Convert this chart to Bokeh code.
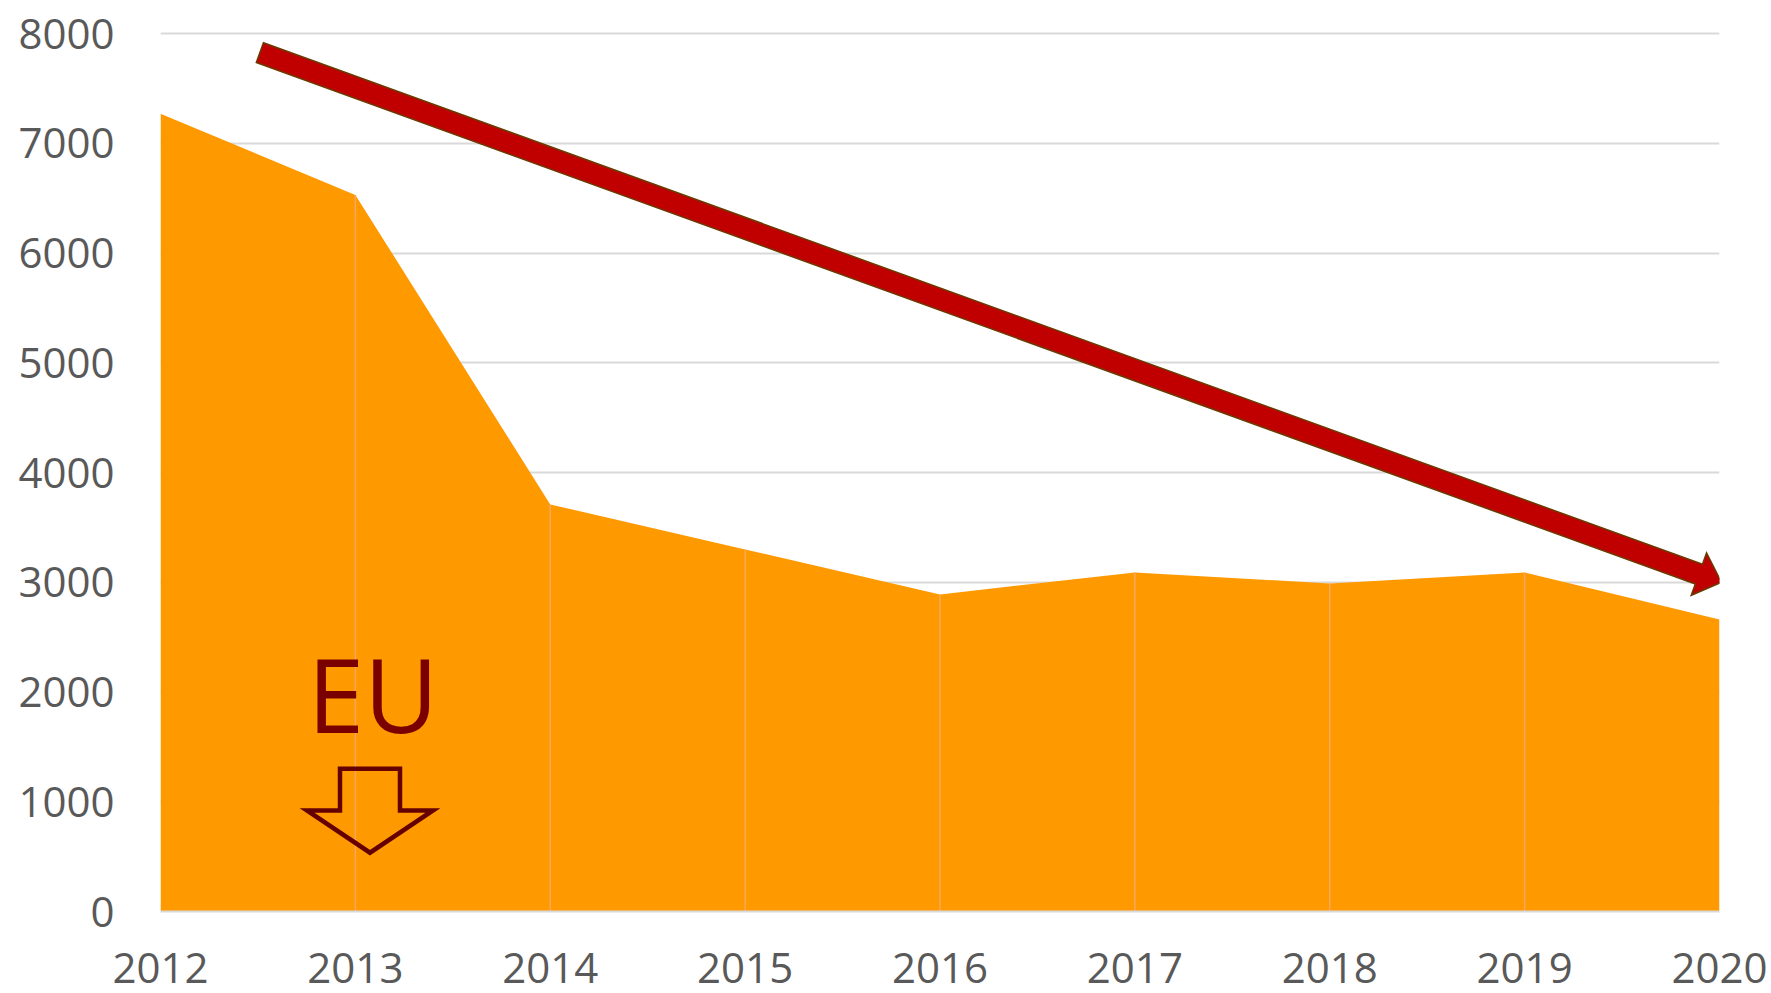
import math
from bokeh.plotting import figure
from bokeh.models import Range1d, FixedTicker
from bokeh.core.properties import value
from bokeh.embed import file_html
from bokeh.resources import INLINE

# ---- data ----
years = [2012, 2013, 2014, 2015, 2016, 2017, 2018, 2019, 2020]
values = [7270, 6530, 3710, 3300, 2890, 3090, 2990, 3090, 2660]
y_ticks = [0, 1000, 2000, 3000, 4000, 5000, 6000, 7000, 8000]
eu_text = ["EU"]

# ---- layout ----
W, H = 1771, 993
LEFT, RIGHT, TOP = 160, 52, 20
FRAME_W = W - LEFT - RIGHT
FRAME_H = 891
BOTTOM = H - TOP - FRAME_H
X0, X1 = 2012, 2020
Y0, Y1 = 0, 8120
SX = FRAME_W / (X1 - X0)   # px per year
SY = FRAME_H / (Y1 - Y0)   # px per unit

FONT = "Open Sans"
GREY = "#595959"

p = figure(width=W, height=H, x_range=Range1d(X0, X1), y_range=Range1d(Y0, Y1),
           output_backend="svg", toolbar_location=None,
           min_border_left=LEFT, min_border_right=RIGHT,
           min_border_top=TOP, min_border_bottom=BOTTOM)
p.outline_line_color = None
p.background_fill_color = "white"
p.border_fill_color = "white"

# grid
p.xgrid.grid_line_color = None
p.ygrid.ticker = FixedTicker(ticks=y_ticks)
p.ygrid.grid_line_color = "#d9d9d9"
p.ygrid.grid_line_width = 2

# axes
p.xaxis.ticker = FixedTicker(ticks=years)
p.yaxis.ticker = FixedTicker(ticks=y_ticks)
for ax in (p.xaxis, p.yaxis):
    ax.major_tick_line_color = None
    ax.minor_tick_line_color = None
    ax.major_label_text_font = FONT
    ax.major_label_text_font_size = "42px"
    ax.major_label_text_color = GREY
p.yaxis.axis_line_color = None
p.yaxis.major_label_standoff = 40
p.xaxis.axis_line_color = "#d9d9d9"
p.xaxis.axis_line_width = 2
p.xaxis.major_label_standoff = 35

# area
p.varea(x=years, y1=[0] * len(years), y2=values, fill_color="#FF9900", fill_alpha=1)
# faint vertical lines at each inner year
p.segment(x0=years[1:-1], y0=[0] * (len(years) - 2), x1=years[1:-1], y1=values[1:-1],
          line_color="#F7A85E", line_width=1.5)


def to_px(x, y):
    return ((x - X0) * SX, (y - Y0) * SY)


def to_data(px, py):
    return (X0 + px / SX, Y0 + py / SY)


# ---- red trend arrow ----
trend_start = (2012.51, 7827)
trend_end = (2020.01, 3000)
sx_, sy_ = to_px(*trend_start)
tx_, ty_ = to_px(*trend_end)
L = math.hypot(tx_ - sx_, ty_ - sy_)
ux, uy = (tx_ - sx_) / L, (ty_ - sy_) / L
nx, ny = -uy, ux
hw, hl, hh = 10.5, 24, 22.5
bx, by = tx_ - ux * hl, ty_ - uy * hl
pts = [(sx_ + nx * hw, sy_ + ny * hw), (bx + nx * hw, by + ny * hw), (bx + nx * hh, by + ny * hh),
       (tx_, ty_), (bx - nx * hh, by - ny * hh), (bx - nx * hw, by - ny * hw),
       (sx_ - nx * hw, sy_ - ny * hw)]
dpts = [to_data(a, b) for a, b in pts]
p.patch(x=[d[0] for d in dpts], y=[d[1] for d in dpts], fill_color="#C00000",
        line_color="#6B3A00", line_width=1.5, line_join="miter")

# ---- EU label ----
p.text(x=[2013.09], y=[1990], text=eu_text, text_font=value(FONT), text_font_size="102px",
       text_color="#7A0000", text_align="center", text_baseline="alphabetic")

# ---- hollow down arrow (offsets in px from its tip) ----
tip = (2013.075, 536)
tpx, tpy = to_px(*tip)
shape = [(-30, 84), (30, 84), (30, 42.3), (63, 42.3), (0, 0), (-63, 42.3), (-30, 42.3)]
dd = [to_data(tpx + a, tpy + b) for a, b in shape]
p.patch(x=[d[0] for d in dd], y=[d[1] for d in dd], fill_color=None, fill_alpha=0,
        line_color="#650000", line_width=4.5, line_join="miter")

open("out.html", "w").write(file_html(p, INLINE))
